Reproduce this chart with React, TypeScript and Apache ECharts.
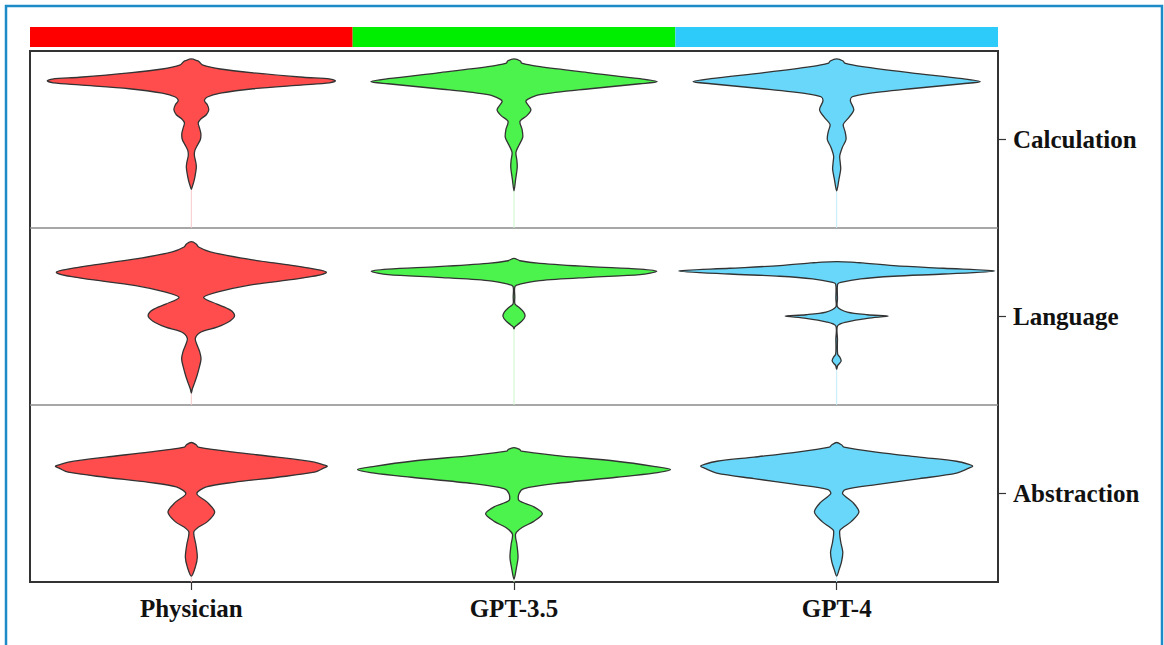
import React, { useEffect, useRef } from 'react';
import * as echarts from 'echarts';

// Facets
const METHODS = ['Physician', 'GPT-3.5', 'GPT-4'];
const DOMAINS = ['Calculation', 'Language', 'Abstraction']; // top to bottom
// score range shown by each domain panel
const PANEL_RANGES: [number, number][] = [[0, 6], [0, 4], [-0.53, 3.34]];

const FILL_COLORS = ['#FF4D4D', '#4DF34D', '#69D7FA'];
const STRIP_COLORS = ['#FF0000', '#00EE00', '#2CCBFA'];
const WHISKER_COLORS = ['#F6CACA', '#CDF6CD', '#C4ECF9'];

// Violin profiles: [score, half-width as fraction of half a column]
const physicianCalculation: [number, number][] = [
  [5.73, 0], [5.67, 0.037], [5.63, 0.05], [5.53, 0.068], [5.39, 0.18], [5.26, 0.384],
  [5.11, 0.694], [5.05, 0.862], [4.99, 0.893], [4.92, 0.856], [4.85, 0.694], [4.72, 0.384],
  [4.57, 0.18], [4.44, 0.099], [4.31, 0.081], [4.18, 0.099], [4.01, 0.108], [3.84, 0.093],
  [3.71, 0.062], [3.57, 0.043], [3.4, 0.05], [3.2, 0.059], [3.0, 0.056], [2.8, 0.037],
  [2.63, 0.022], [2.46, 0.019], [2.22, 0.028], [2.06, 0.031], [1.82, 0.025], [1.58, 0.016],
  [1.42, 0.007], [1.31, 0],
];
const gpt35Calculation: [number, number][] = [
  [5.73, 0], [5.66, 0.04], [5.59, 0.047], [5.47, 0.161], [5.26, 0.471], [5.06, 0.781],
  [4.96, 0.887], [4.89, 0.781], [4.72, 0.471], [4.52, 0.161], [4.37, 0.087], [4.28, 0.074],
  [4.01, 0.105], [3.81, 0.08], [3.62, 0.037], [3.34, 0.05], [3.07, 0.054], [2.8, 0.03],
  [2.56, 0.012], [2.29, 0.018], [2.06, 0.02], [1.65, 0.01], [1.26, 0],
];
const gpt4Calculation: [number, number][] = [
  [5.73, 0], [5.66, 0.04], [5.59, 0.05], [5.47, 0.16], [5.26, 0.46], [5.06, 0.78],
  [4.96, 0.89], [4.89, 0.78], [4.72, 0.46], [4.55, 0.18], [4.45, 0.097], [4.31, 0.085],
  [4.01, 0.106], [3.74, 0.075], [3.51, 0.041], [3.27, 0.052], [3.0, 0.058], [2.73, 0.035],
  [2.44, 0.019], [2.22, 0.022], [1.99, 0.025], [1.65, 0.014], [1.26, 0],
];
const physicianLanguage: [number, number][] = [
  [3.69, 0], [3.64, 0.03], [3.57, 0.045], [3.46, 0.118], [3.3, 0.345], [3.14, 0.655],
  [3.05, 0.8], [3.0, 0.837], [2.94, 0.8], [2.85, 0.655], [2.7, 0.345], [2.55, 0.159],
  [2.43, 0.076], [2.28, 0.159], [2.15, 0.24], [2.02, 0.268], [1.9, 0.24], [1.76, 0.159],
  [1.65, 0.06], [1.51, 0.025], [1.36, 0.035], [1.2, 0.052], [1.04, 0.06], [0.86, 0.05],
  [0.66, 0.035], [0.5, 0.02], [0.36, 0.006], [0.27, 0],
];
const gpt35Language: [number, number][] = [
  [3.315, 0], [3.26, 0.037], [3.2, 0.161], [3.125, 0.471], [3.07, 0.781], [3.02, 0.885],
  [2.945, 0.781], [2.885, 0.471], [2.81, 0.161], [2.73, 0.037], [2.68, 0.006], [2.44, 0.005],
  [2.28, 0.006], [2.21, 0.03], [2.1, 0.06], [2.0, 0.068], [1.9, 0.05], [1.81, 0.02],
  [1.76, 0.004], [1.72, 0],
];
const gpt4Language: [number, number][] = [
  [3.24, 0], [3.23, 0.09], [3.21, 0.16], [3.15, 0.353], [3.09, 0.663], [3.03, 0.98],
  [2.96, 0.663], [2.91, 0.353], [2.85, 0.149], [2.77, 0.025], [2.73, 0.006], [2.4, 0.005],
  [2.21, 0.006], [2.1, 0.066], [2.04, 0.19], [2.01, 0.32], [1.96, 0.19], [1.88, 0.066],
  [1.79, 0.006], [1.49, 0.005], [1.15, 0.006], [1.08, 0.02], [1.0, 0.028], [0.94, 0.018],
  [0.89, 0.006], [0.81, 0],
];
const physicianAbstraction: [number, number][] = [
  [2.52, 0], [2.47, 0.03], [2.42, 0.043], [2.31, 0.264], [2.2, 0.533], [2.09, 0.763],
  [2.03, 0.82], [2.0, 0.843], [1.96, 0.82], [1.87, 0.763], [1.76, 0.533], [1.65, 0.264],
  [1.55, 0.093], [1.4, 0.034], [1.21, 0.1], [1.0, 0.145], [0.79, 0.1], [0.66, 0.04],
  [0.56, 0.015], [0.29, 0.028], [0.01, 0.037], [-0.2, 0.025], [-0.4, 0],
];
const gpt35Abstraction: [number, number][] = [
  [2.41, 0], [2.37, 0.035], [2.33, 0.045], [2.24, 0.252], [2.11, 0.635], [2.0, 0.865],
  [1.93, 0.97], [1.85, 0.865], [1.76, 0.635], [1.62, 0.252], [1.51, 0.062], [1.4, 0.031],
  [1.25, 0.031], [1.12, 0.12], [0.96, 0.176], [0.79, 0.12], [0.66, 0.05], [0.52, 0.01],
  [0.29, 0.018], [0.01, 0.025], [-0.22, 0.015], [-0.47, 0],
];
const gpt4Abstraction: [number, number][] = [
  [2.52, 0], [2.47, 0.03], [2.42, 0.045], [2.31, 0.245], [2.2, 0.513], [2.11, 0.743],
  [2.04, 0.82], [2.0, 0.843], [1.96, 0.82], [1.85, 0.743], [1.73, 0.513], [1.6, 0.245],
  [1.49, 0.053], [1.4, 0.037], [1.21, 0.1], [1.0, 0.138], [0.79, 0.09], [0.66, 0.04],
  [0.59, 0.019], [0.35, 0.025], [0.12, 0.038], [-0.09, 0.03], [-0.26, 0.015], [-0.4, 0],
];

const VIOLINS = [
  { method: 0, domain: 0, profile: physicianCalculation },
  { method: 1, domain: 0, profile: gpt35Calculation },
  { method: 2, domain: 0, profile: gpt4Calculation },
  { method: 0, domain: 1, profile: physicianLanguage },
  { method: 1, domain: 1, profile: gpt35Language },
  { method: 2, domain: 1, profile: gpt4Language },
  { method: 0, domain: 2, profile: physicianAbstraction },
  { method: 1, domain: 2, profile: gpt35Abstraction },
  { method: 2, domain: 2, profile: gpt4Abstraction },
];

const PANEL_DIVIDERS = [1, 2];

const LABEL_FONT = {
  fontFamily: '"Liberation Serif", "Times New Roman", serif',
  fontWeight: 'bold' as const,
  fontSize: 25,
  color: '#111',
};

export default function App() {
  const ref = useRef<HTMLDivElement>(null);

  useEffect(() => {
    if (!ref.current) return;
    const chart = echarts.init(ref.current, null, { renderer: 'svg' });
    const nPanels = DOMAINS.length;

    const option: any = {
      animation: false,
      backgroundColor: '#fff',
      graphic: [
        {
          type: 'rect',
          x: 6,
          y: 6,
          shape: { x: 0, y: 0, width: 1156, height: 700 },
          style: { fill: 'none', stroke: '#1E8BC9', lineWidth: 2.5 },
          silent: true,
        },
      ],
      grid: {
        left: 30,
        top: 51,
        width: 968,
        height: 531,
        show: true,
        borderColor: '#333',
        borderWidth: 2,
        backgroundColor: 'transparent',
        containLabel: false,
      },
      xAxis: [
        {
          type: 'category',
          data: METHODS,
          position: 'bottom',
          axisLine: { show: false, onZero: false },
          axisTick: { show: true, alignWithLabel: true, length: 8, lineStyle: { color: '#333', width: 1.2 } },
          axisLabel: { ...LABEL_FONT, margin: 14 },
          splitLine: { show: false },
        },
        { type: 'value', min: 0, max: METHODS.length, show: false, axisLine: { onZero: false } },
      ],
      yAxis: [
        {
          type: 'category',
          data: DOMAINS.slice().reverse(),
          position: 'right',
          axisLine: { show: false, onZero: false },
          axisTick: { show: true, alignWithLabel: true, length: 8, lineStyle: { color: '#333', width: 1.2 } },
          axisLabel: { ...LABEL_FONT, margin: 15 },
          splitLine: { show: false },
        },
        { type: 'value', min: 0, max: nPanels, show: false, axisLine: { onZero: false } },
      ],
      series: [
        {
          type: 'custom',
          name: 'strips',
          xAxisIndex: 1,
          yAxisIndex: 1,
          data: METHODS.map((_, i) => i),
          silent: true,
          renderItem: (params: any, api: any) => {
            const i = params.dataIndex;
            const p0 = api.coord([i, nPanels]);
            const p1 = api.coord([i + 1, nPanels]);
            return {
              type: 'rect',
              shape: { x: p0[0], y: p0[1] - 24, width: p1[0] - p0[0], height: 20 },
              style: { fill: STRIP_COLORS[i] },
            };
          },
        },
        {
          type: 'custom',
          name: 'dividers',
          xAxisIndex: 1,
          yAxisIndex: 1,
          data: PANEL_DIVIDERS,
          silent: true,
          renderItem: (params: any, api: any) => {
            const v = PANEL_DIVIDERS[params.dataIndex];
            const a = api.coord([0, v]);
            const b = api.coord([METHODS.length, v]);
            return {
              type: 'line',
              shape: { x1: a[0], y1: a[1], x2: b[0], y2: b[1] },
              style: { stroke: '#8a8a8a', lineWidth: 1.5 },
            };
          },
        },
        {
          type: 'custom',
          name: 'violins',
          xAxisIndex: 1,
          yAxisIndex: 1,
          data: VIOLINS.map((_, i) => i),
          silent: true,
          renderItem: (params: any, api: any) => {
            const v = VIOLINS[params.dataIndex];
            const [lo, hi] = PANEL_RANGES[v.domain];
            const base = nPanels - 1 - v.domain;
            const toY = (s: number) => base + (s - lo) / (hi - lo);
            const cx = v.method + 0.5;
            const right = v.profile.map(([s, w]) => api.coord([cx + w * 0.5, toY(s)]));
            const left = v.profile
              .slice()
              .reverse()
              .map(([s, w]) => api.coord([cx - w * 0.5, toY(s)]));
            const points = right.concat(left.slice(1, -1));
            const last = v.profile[v.profile.length - 1];
            const tail = api.coord([cx, toY(last[0])]);
            const bottom = api.coord([cx, base]);
            return {
              type: 'group',
              children: [
                {
                  type: 'line',
                  shape: { x1: tail[0], y1: tail[1], x2: bottom[0], y2: bottom[1] },
                  style: { stroke: WHISKER_COLORS[v.method], lineWidth: 1 },
                },
                {
                  type: 'polygon',
                  shape: { points, smooth: 0.3 },
                  style: { fill: FILL_COLORS[v.method], stroke: '#333', lineWidth: 1.3 },
                },
              ],
            };
          },
        },
      ],
    };

    chart.setOption(option);
    return () => chart.dispose();
  }, []);

  return (
    <div
      ref={ref}
      style={{ position: 'absolute', left: 0, top: 0, width: 1164, height: 645 }}
    />
  );
}
